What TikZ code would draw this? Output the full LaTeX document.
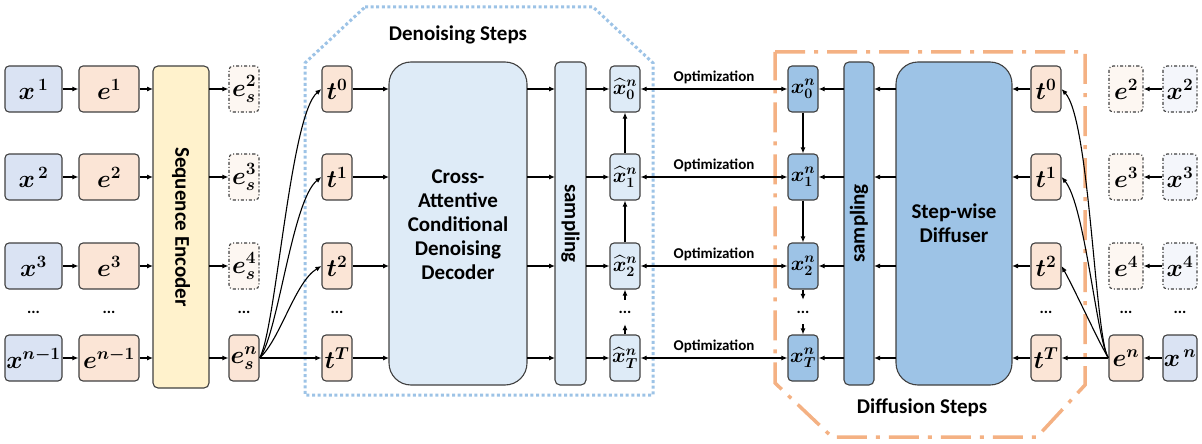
\documentclass[tikz,border=0pt]{standalone}
\usepackage{amsmath,bm}
\usepackage{fontspec}
\setmainfont{Carlito}
\usetikzlibrary{arrows.meta}
\definecolor{xblue}{HTML}{DAE3F3}
\definecolor{peach}{HTML}{FBE5D6}
\definecolor{yel}{HTML}{FFF2CC}
\definecolor{lblue}{HTML}{DEEBF7}
\definecolor{mblue}{HTML}{9DC3E6}
\definecolor{dpeach}{HTML}{FDF7F2}
\definecolor{dxblue}{HTML}{F4F6FB}
\definecolor{bord}{HTML}{404040}
\definecolor{oline}{HTML}{F4B183}
\definecolor{bline}{HTML}{9DC3E6}
\tikzset{
  bx/.style={draw=bord, line width=1.1pt, rounded corners=4pt, inner sep=0pt,
    minimum height=46pt, font=\fontsize{25}{27}\selectfont},
  sbx/.style={bx, font=\fontsize{22}{24}\selectfont},
  dbx/.style={bx, dash pattern=on 3pt off 2pt on 1pt off 2pt},
  bar/.style={draw=bord, line width=1.1pt, rounded corners=5pt, inner sep=0pt},
  big/.style={draw=bord, line width=1.1pt, rounded corners=22pt, inner sep=0pt,
    align=center, font=\fontsize{20}{24}\selectfont\bfseries},
  ar/.style={line width=1.1pt, -{Latex[length=6pt,width=5pt]}},
  dar/.style={line width=1.1pt, {Latex[length=6pt,width=5pt]}-{Latex[length=6pt,width=5pt]}},
  dots/.style={inner sep=0pt, minimum height=24pt, font=\fontsize{16}{18}\selectfont\bfseries},
  opt/.style={font=\fontsize{15}{16}\selectfont\bfseries, above=1pt},
  ttl/.style={font=\fontsize{21}{22}\selectfont\bfseries},
  lbl/.style={font=\fontsize{21}{22}\selectfont\bfseries},
}
\begin{document}
\begin{tikzpicture}[x=1pt,y=-1pt]
\useasboundingbox (0,0) rectangle (1202,444);
% outlines
\draw[bline, line width=3pt, dash pattern=on 3pt off 2.6pt]
  (365,7) -- (593,7) -- (653,63) -- (653,395) -- (305,395) -- (305,63) -- cycle;
\draw[oline, line width=3.5pt, dash pattern=on 30pt off 9pt on 4pt off 9pt]
  (775,52) -- (1085,52) -- (1085,385) -- (1037,437) -- (832,437) -- (775,383) -- cycle;
\node[ttl] (dtitle) at (458,35) {Denoising Steps};
\node[ttl] (ftitle) at (922,408) {Diffusion Steps};
% left column
\node[bx, fill=xblue, minimum width=57pt] (x1) at (33.5,89) {$\bm{x^{\,1}}$};
\node[bx, fill=xblue, minimum width=57pt] (x2) at (33.5,177) {$\bm{x^{\,2}}$};
\node[bx, fill=xblue, minimum width=57pt] (x3) at (33.5,266) {$\bm{x^{3}}$};
\node[bx, fill=xblue, minimum width=57pt] (xn1) at (33.5,358) {$\bm{x^{n-1}}$};
\node[bx, fill=peach, minimum width=60pt] (e1) at (109,89) {$\bm{e^{1}}$};
\node[bx, fill=peach, minimum width=60pt] (e2) at (109,177) {$\bm{e^{2}}$};
\node[bx, fill=peach, minimum width=60pt] (e3) at (109,266) {$\bm{e^{3}}$};
\node[bx, fill=peach, minimum width=60pt] (en1) at (109,358) {$\bm{e^{n-1}}$};
\node[dots] (dx) at (33.5,312) {...};
\node[dots] (de) at (109,312) {...};
\node[bar, fill=yel, minimum width=56pt, minimum height=322pt] (enc) at (181,227) {};
\node[rotate=-90, lbl] (enct) at (enc.center) {Sequence Encoder};
\node[dbx, fill=dpeach, minimum width=30pt] (es2) at (244,89) {$\bm{e_s^2}$};
\node[dbx, fill=dpeach, minimum width=30pt] (es3) at (244,177) {$\bm{e_s^3}$};
\node[dbx, fill=dpeach, minimum width=30pt] (es4) at (244,266) {$\bm{e_s^4}$};
\node[bx, fill=peach, minimum width=30pt] (esn) at (244,358) {$\bm{e_s^n}$};
\node[dots] (des) at (244,312) {...};
\foreach \a/\b/\c/\d in {x1/e1/es2/89, x2/e2/es3/177, x3/e3/es4/266, xn1/en1/esn/358}{
  \draw[ar] (\a) -- (\b);
  \draw[ar] (\b.east) -- (153,\d);
  \draw[ar] (209,\d) -- (\c.west);
}
% denoising
\node[bx, fill=peach, minimum width=30pt] (t0) at (337,89) {$\bm{t^{0}}$};
\node[bx, fill=peach, minimum width=30pt] (t1) at (337,177) {$\bm{t^{1}}$};
\node[bx, fill=peach, minimum width=30pt] (t2) at (337,266) {$\bm{t^{2}}$};
\node[bx, fill=peach, minimum width=30pt] (tT) at (337,358) {$\bm{t^{T}}$};
\node[dots] (dt) at (337,312) {...};
\node[big, fill=lblue, minimum width=138pt, minimum height=323pt] (dec) at (458,223.5) {};
\node[align=center, font=\fontsize{21}{24}\selectfont\bfseries] (dect) at (458,225) {Cross-\\Attentive\\Conditional\\Denoising\\Decoder};
\node[bar, fill=lblue, minimum width=31pt, minimum height=323pt] (samL) at (570.5,223.5) {};
\node[rotate=-90, lbl] (samLt) at (samL.center) {sampling};
\node[sbx, fill=lblue, minimum width=30pt] (h0) at (625,89) {$\bm{\widehat{x}_0^n}$};
\node[sbx, fill=lblue, minimum width=30pt] (h1) at (625,177) {$\bm{\widehat{x}_1^n}$};
\node[sbx, fill=lblue, minimum width=30pt] (h2) at (625,266) {$\bm{\widehat{x}_2^n}$};
\node[sbx, fill=lblue, minimum width=30pt] (hT) at (625,358) {$\bm{\widehat{x}_T^n}$};
\node[dots] (dh) at (625,312) {...};
\foreach \a/\b/\d in {t0/h0/89, t1/h1/177, t2/h2/266, tT/hT/358}{
  \draw[ar] (\a.east) -- (389,\d);
  \draw[ar] (527,\d) -- (555,\d);
  \draw[ar] (586,\d) -- (\b.west);
}
\draw[ar] (h1) -- (h0);
\draw[ar] (h2) -- (h1);
\draw[ar] (dh.north) -- (h2.south);
\draw[ar] (hT.north) -- (dh.south);
% curves from esn
\draw[ar] (esn.east) .. controls (276,330) and (290,115) .. (t0.west);
\draw[ar] (esn.east) .. controls (278,335) and (292,200) .. (t1.west);
\draw[ar] (esn.east) .. controls (280,340) and (295,282) .. (t2.west);
\draw[ar] (esn.east) -- (tT.west);
% diffusion
\node[sbx, fill=mblue, minimum width=30pt] (r0) at (803,89) {$\bm{x_0^n}$};
\node[sbx, fill=mblue, minimum width=30pt] (r1) at (803,177) {$\bm{x_1^n}$};
\node[sbx, fill=mblue, minimum width=30pt] (r2) at (803,266) {$\bm{x_2^n}$};
\node[sbx, fill=mblue, minimum width=30pt] (rT) at (803,358) {$\bm{x_T^n}$};
\node[dots] (dr) at (803,312) {...};
\draw[ar] (r0) -- (r1);
\draw[ar] (r1) -- (r2);
\draw[ar] (r2.south) -- (dr.north);
\draw[ar] (dr.south) -- (rT.north);
\foreach \a/\b in {h0/r0, h1/r1, h2/r2, hT/rT}{
  \draw[dar] (\a.east) -- node[opt] {Optimization} (\b.west);
}
\node[bar, fill=mblue, minimum width=30pt, minimum height=323pt] (samR) at (859,223.5) {};
\node[rotate=90, lbl] (samRt) at (samR.center) {sampling};
\node[big, fill=mblue, minimum width=116pt, minimum height=323pt] (dif) at (954,223.5) {};
\node[align=center, font=\fontsize{21}{24}\selectfont\bfseries] (dift) at (954,223) {Step-wise\\Diffuser};
\node[bx, fill=peach, minimum width=30pt] (u0) at (1046,89) {$\bm{t^{0}}$};
\node[bx, fill=peach, minimum width=30pt] (u1) at (1046,177) {$\bm{t^{1}}$};
\node[bx, fill=peach, minimum width=30pt] (u2) at (1046,266) {$\bm{t^{2}}$};
\node[bx, fill=peach, minimum width=30pt] (uT) at (1046,358) {$\bm{t^{T}}$};
\node[dots] (du) at (1046,312) {...};
\foreach \a/\b/\d in {u0/r0/89, u1/r1/177, u2/r2/266, uT/rT/358}{
  \draw[ar] (\a.west) -- (1012,\d);
  \draw[ar] (896,\d) -- (874,\d);
  \draw[ar] (844,\d) -- (\b.east);
}
\node[dbx, fill=dpeach, minimum width=34pt] (f2) at (1126,89) {$\bm{e^{2}}$};
\node[dbx, fill=dpeach, minimum width=34pt] (f3) at (1126,177) {$\bm{e^{3}}$};
\node[dbx, fill=dpeach, minimum width=34pt] (f4) at (1126,266) {$\bm{e^{4}}$};
\node[bx, fill=peach, minimum width=34pt] (fn) at (1126,358) {$\bm{e^{n}}$};
\node[dots] (df) at (1126,312) {...};
\node[dbx, fill=dxblue, minimum width=34pt] (y2) at (1180,89) {$\bm{x^{2}}$};
\node[dbx, fill=dxblue, minimum width=34pt] (y3) at (1180,177) {$\bm{x^{3}}$};
\node[dbx, fill=dxblue, minimum width=34pt] (y4) at (1180,266) {$\bm{x^{4}}$};
\node[bx, fill=xblue, minimum width=34pt] (yn) at (1180,358) {$\bm{x^{\,n}}$};
\node[dots] (dy) at (1180,312) {...};
\foreach \a/\b in {y2/f2, y3/f3, y4/f4, yn/fn}{
  \draw[ar] (\a) -- (\b);
}
\draw[ar] (fn.west) -- (uT.east);
\draw[ar] (fn.west) .. controls (1095,340) and (1090,120) .. (u0.east);
\draw[ar] (fn.west) .. controls (1097,342) and (1085,205) .. (u1.east);
\draw[ar] (fn.west) .. controls (1100,345) and (1075,290) .. (u2.east);
\end{tikzpicture}
\end{document}
